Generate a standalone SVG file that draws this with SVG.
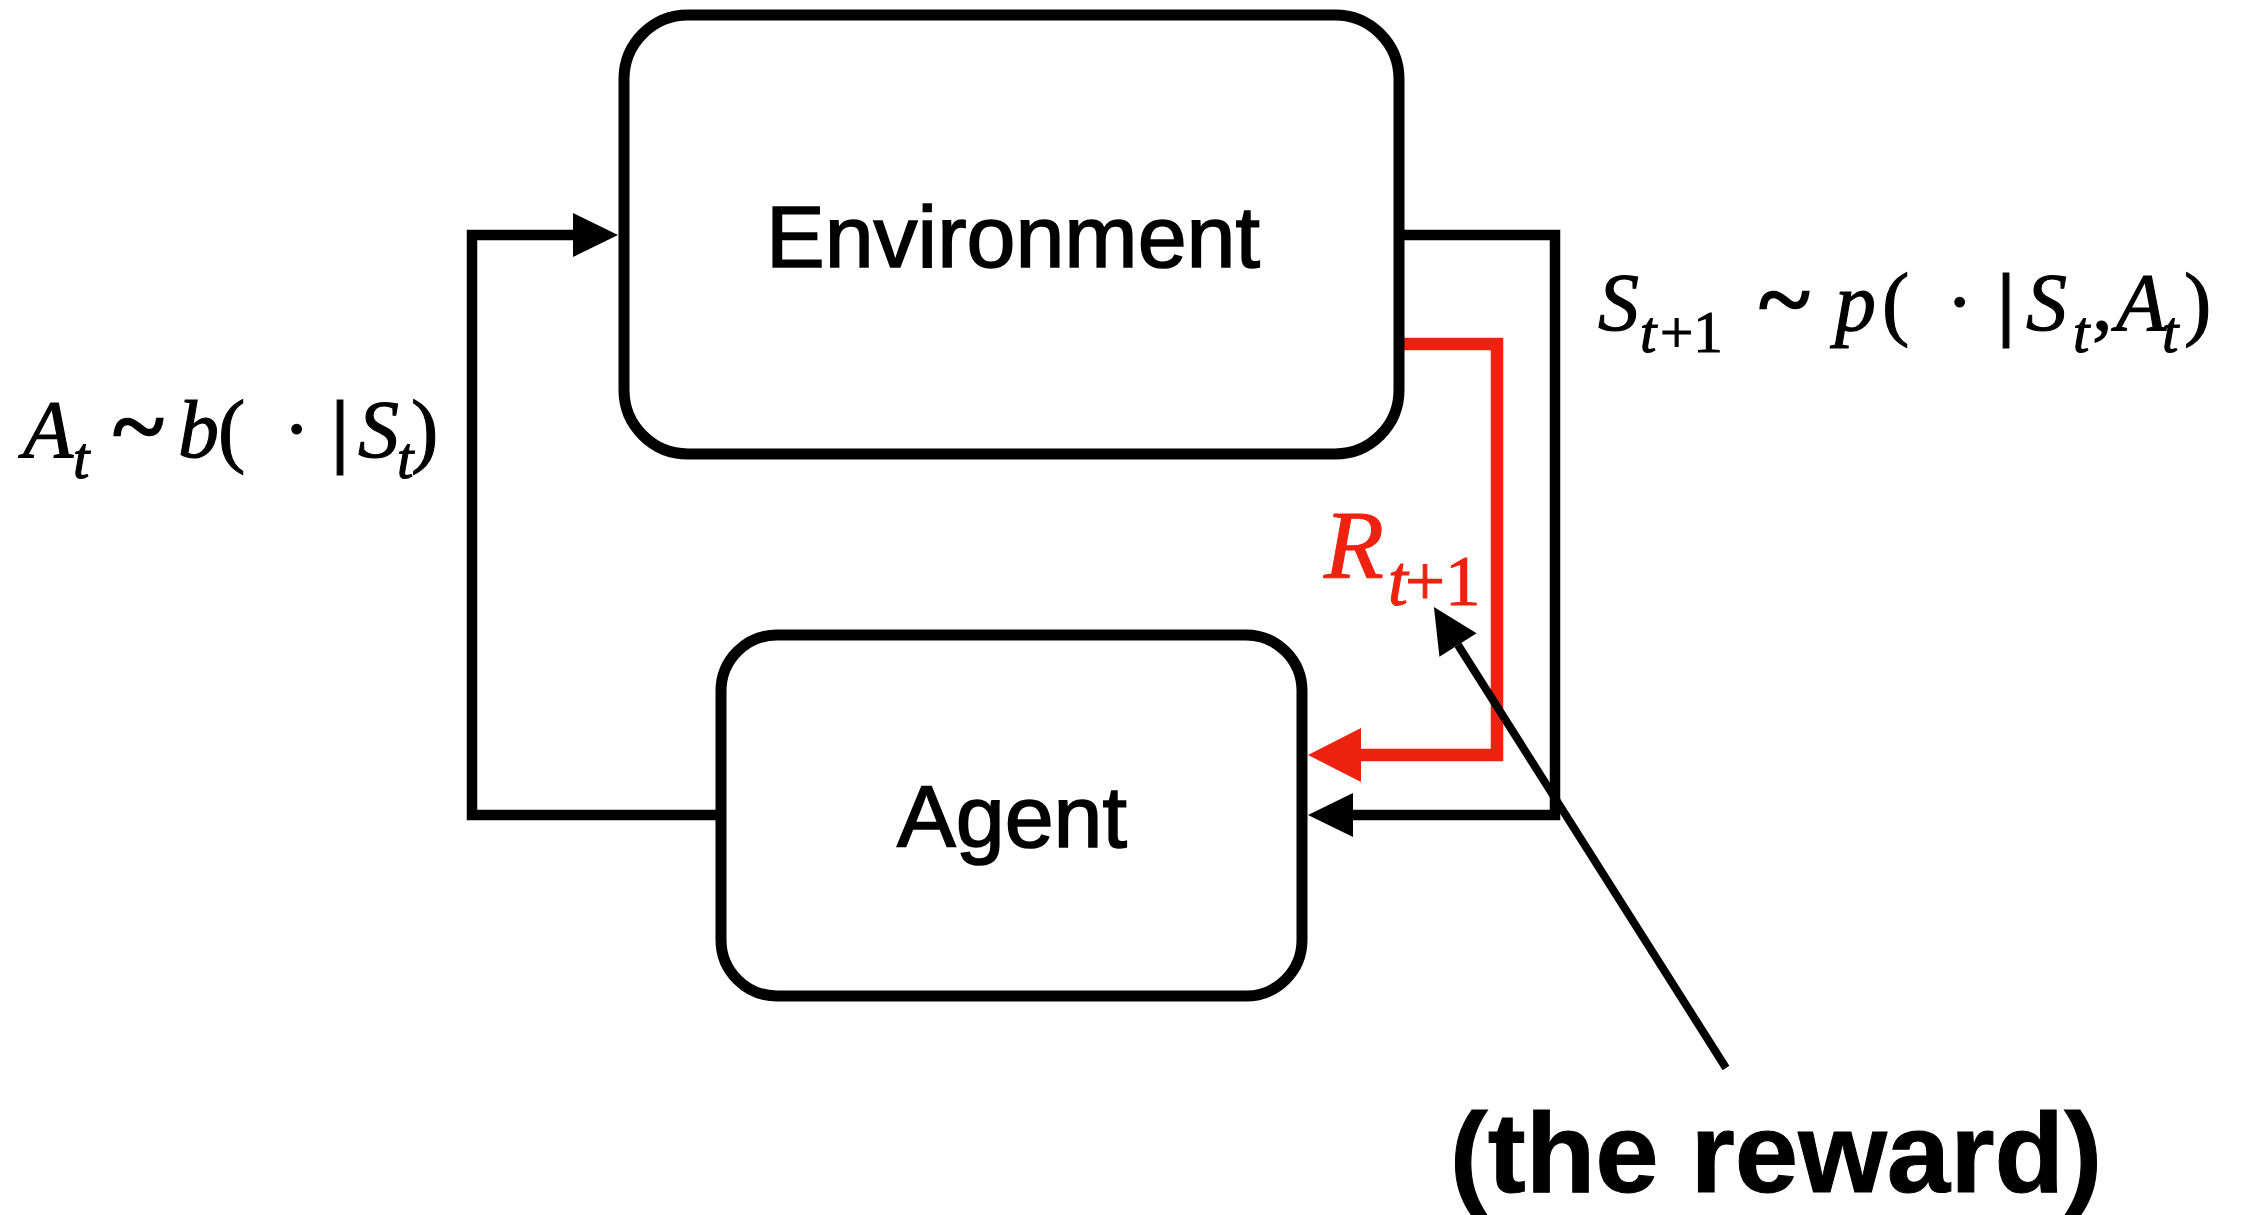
<svg xmlns="http://www.w3.org/2000/svg" width="2261" height="1215" viewBox="0 0 2261 1215">
  <style>
    .box { fill: #ffffff; stroke: #000000; stroke-width: 11; }
    .label { font-family: "Liberation Sans", Arial, Helvetica, sans-serif; font-size: 88px; fill: #000000; stroke: #000000; stroke-width: 1.6; text-anchor: middle; }
    .wire { fill: none; stroke: #000000; stroke-width: 10.5; stroke-linejoin: miter; stroke-linecap: butt; }
    .wire-red { fill: none; stroke: #ee2210; stroke-width: 12.5; stroke-linejoin: miter; stroke-linecap: butt; }
    .pointer { fill: none; stroke: #000000; stroke-width: 8; stroke-linecap: butt; }
    .math { font-family: "Liberation Serif", "Times New Roman", Times, serif; font-size: 82px; fill: #000000; stroke: #000000; stroke-width: 1.1; }
    .it { font-style: italic; }
    .sub { font-size: 59px; }
    .tilde { font-size: 98px; stroke-width: 2.6; }
    .reward { fill: #ee2210; stroke: #ee2210; font-size: 98px; }
    .reward-sub { font-size: 71px; }
    .note { font-family: "Liberation Sans", Arial, Helvetica, sans-serif; font-weight: bold; font-size: 114px; fill: #000000; stroke: #000000; stroke-width: 1; text-anchor: middle; }
  </style>
  <defs>
    <marker id="head" markerUnits="userSpaceOnUse" markerWidth="45" markerHeight="44" refX="0" refY="22" orient="auto" overflow="visible">
      <path d="M0,0 L45,22 L0,44 Z" fill="#000000"/>
    </marker>
    <marker id="head-red" markerUnits="userSpaceOnUse" markerWidth="53" markerHeight="54" refX="0" refY="27" orient="auto" overflow="visible">
      <path d="M0,0 L53,27 L0,54 Z" fill="#ee2210"/>
    </marker>
  </defs>

  <rect width="2261" height="1215" fill="#ffffff"/>

  <!-- connectors -->
  <g id="connectors">
    <!-- action: agent -> environment -->
    <path class="wire" d="M721,815 H472 V235 H573" marker-end="url(#head)"/>
    <!-- next state: environment -> agent -->
    <path class="wire" d="M1399,235 H1555 V815 H1353" marker-end="url(#head)"/>
    <!-- reward: environment -> agent -->
    <path class="wire-red" d="M1399,344 H1497 V755 H1361" marker-end="url(#head-red)"/>
    <!-- callout pointing at the reward symbol -->
    <path class="pointer" d="M1726,1068 L1458,645" marker-end="url(#head)"/>
  </g>

  <!-- environment node -->
  <g id="environment">
    <rect class="box" x="624" y="15" width="775" height="439" rx="64" ry="64"/>
    <text class="label" x="1013" y="267">Environment</text>
  </g>

  <!-- agent node -->
  <g id="agent">
    <rect class="box" x="721" y="635" width="581" height="361" rx="56" ry="56"/>
    <text class="label" x="1012" y="847">Agent</text>
  </g>

  <!-- action distribution -->
  <g id="label-action">
    <text class="math" y="457">
      <tspan class="it" x="23">A</tspan><tspan class="it sub" x="73" y="478">t</tspan><tspan class="tilde" x="112" y="459">~</tspan><tspan class="it" x="178" y="457">b</tspan><tspan x="218">(</tspan><tspan x="283">·</tspan><tspan x="331" font-weight="bold">|</tspan><tspan class="it" x="358">S</tspan><tspan class="it sub" x="397" y="478">t</tspan><tspan x="411" y="457">)</tspan>
    </text>
  </g>

  <!-- state transition -->
  <g id="label-state">
    <text class="math" y="330">
      <tspan class="it" x="1598">S</tspan><tspan class="it sub" x="1640" y="352">t</tspan><tspan class="sub" x="1660" y="352">+1</tspan><tspan class="tilde" x="1758" y="332">~</tspan><tspan class="it" x="1835" y="330">p</tspan><tspan x="1882">(</tspan><tspan x="1946">·</tspan><tspan x="1997" font-weight="bold">|</tspan><tspan class="it" x="2026">S</tspan><tspan class="it sub" x="2073" y="352">t</tspan><tspan x="2092" y="330">,</tspan><tspan class="it" x="2116">A</tspan><tspan class="it sub" x="2162" y="352">t</tspan><tspan x="2184" y="330">)</tspan>
    </text>
  </g>

  <!-- reward symbol -->
  <g id="label-reward">
    <text class="math reward" y="578">
      <tspan class="it" x="1324">R</tspan><tspan class="it reward-sub" x="1388" y="605">t</tspan><tspan class="reward-sub" x="1405" y="605">+1</tspan>
    </text>
  </g>

  <!-- callout text -->
  <g id="callout">
    <text class="note" x="1776" y="1192">(the reward)</text>
  </g>
</svg>
